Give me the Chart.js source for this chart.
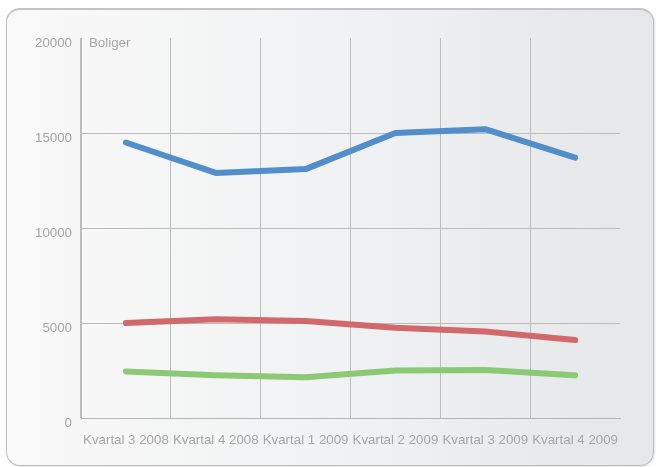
<!DOCTYPE html>
<html>
<head>
<meta charset="utf-8">
<script src="https://cdn.jsdelivr.net/npm/chart.js@4"></script>
<style>
    html, body { margin: 0; padding: 0; background: #fff; }
    #wrap { position: relative; width: 656px; height: 467px; }
    #panel {
        position: absolute; left: 6px; top: 8px; width: 646px; height: 455px;
        border: 1px solid #bdbdbd; border-top: 2px solid #c4c4c4; border-radius: 14px;
        background: linear-gradient(to right, #f9f9f9 0%, #f1f2f3 50%, #e5e6e8 100%);
        box-shadow: 1px 1px 2px rgba(0,0,0,0.12);
    }
    #chart { position: absolute; left: 0; top: 0; }
</style>
</head>
<body>
<div id="wrap">
    <div id="panel"></div>
    <canvas id="chart" width="656" height="467"></canvas>
</div>
<script>
var categories = ['Kvartal 3 2008', 'Kvartal 4 2008', 'Kvartal 1 2009', 'Kvartal 2 2009', 'Kvartal 3 2009', 'Kvartal 4 2009'];
var blueValues = [14500, 12900, 13100, 15000, 15200, 13700];
var redValues = [5000, 5200, 5100, 4750, 4550, 4100];
var greenValues = [2450, 2250, 2150, 2500, 2530, 2250];
var yTicks = [0, 5000, 10000, 15000, 20000];
var unitLabel = 'Boliger';

var gridColor = '#bcbcbc';
var textColor = '#a6a6a6';
var fontFamily = 'Arial, "Liberation Sans", Helvetica, sans-serif';

// "Boliger" in the top left corner of the plot
var unitPlugin = {
    id: 'unitLabel',
    afterDraw: function (chart) {
        var c = chart.ctx, a = chart.chartArea;
        c.save();
        c.font = '13.3px ' + fontFamily;
        c.fillStyle = textColor;
        c.textAlign = 'left';
        c.textBaseline = 'middle';
        c.fillText(unitLabel, a.left + 8, a.top + 5);
        c.restore();
    }
};

function lineSet(label, data, color) {
    return {
        label: label,
        data: data,
        borderColor: color,
        backgroundColor: color,
        borderWidth: 6,
        borderCapStyle: 'round',
        borderJoinStyle: 'round',
        pointRadius: 0,
        tension: 0,
        fill: false
    };
}

var ctx = document.getElementById('chart').getContext('2d');
var myChart = new Chart(ctx, {
    type: 'line',
    data: {
        labels: categories,
        datasets: [
            lineSet('Blå', blueValues, '#528dcc'),
            lineSet('Rød', redValues, '#d0686c'),
            lineSet('Grønn', greenValues, '#8bc975')
        ]
    },
    options: {
        responsive: false,
        animation: false,
        layout: { padding: { left: 0, top: 38, right: 36, bottom: 19 } },
        plugins: {
            legend: { display: false },
            tooltip: { enabled: false }
        },
        scales: {
            x: {
                offset: true,
                afterFit: function (scale) { scale.height = 30; },
                grid: {
                    offset: true,
                    drawTicks: false,
                    color: function (c) { return c.type === 'tick' ? gridColor : 'rgba(0,0,0,0)'; }
                },
                border: { display: true, color: '#b4b4b4', width: 1 },
                ticks: {
                    color: textColor,
                    padding: 14,
                    maxRotation: 0,
                    autoSkip: false,
                    font: { size: 13.3, family: fontFamily }
                }
            },
            y: {
                min: yTicks[0],
                max: yTicks[yTicks.length - 1],
                afterFit: function (scale) { scale.width = 81; },
                afterBuildTicks: function (scale) {
                    scale.ticks = yTicks.map(function (v) { return { value: v }; });
                },
                grid: {
                    drawTicks: false,
                    color: function (c) {
                        return (c.tick && c.tick.value === yTicks[yTicks.length - 1]) ? 'rgba(0,0,0,0)' : gridColor;
                    }
                },
                border: { display: true, color: gridColor, width: 1 },
                ticks: {
                    color: textColor,
                    padding: 9,
                    labelOffset: 5,
                    font: { size: 13.3, family: fontFamily },
                    callback: function (v) { return String(v); }
                }
            }
        }
    },
    plugins: [unitPlugin]
});
</script>
</body>
</html>
